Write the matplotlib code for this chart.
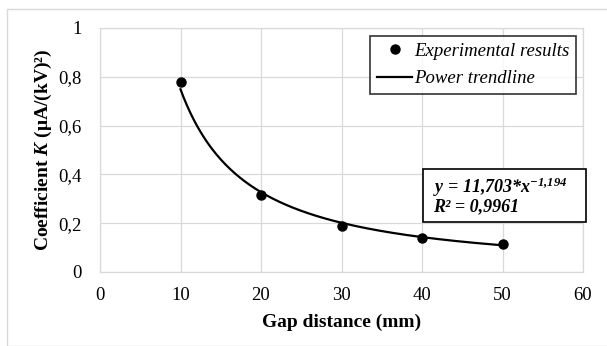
import numpy as np
import matplotlib
matplotlib.use("Agg")
import matplotlib.pyplot as plt
from matplotlib.lines import Line2D
from matplotlib.patches import Rectangle

# data
gap_mm = [10, 20, 30, 40, 50]
coef_k = [0.78, 0.315, 0.19, 0.14, 0.113]
fit_a = 11.703
fit_b = -1.194
r2 = 0.9961
xticks = [0, 10, 20, 30, 40, 50, 60]
yticks = [0, 0.2, 0.4, 0.6, 0.8, 1.0]
ytick_labels = ["0", "0,2", "0,4", "0,6", "0,8", "1"]

plt.rcParams['font.family'] = ['Liberation Serif', 'DejaVu Serif']
plt.rcParams['mathtext.fontset'] = 'custom'
plt.rcParams['mathtext.rm'] = 'Liberation Serif:bold:italic'
plt.rcParams['mathtext.it'] = 'Liberation Serif:bold:italic'
plt.rcParams['mathtext.bf'] = 'Liberation Serif:bold:italic'

W, H = 607, 346
fig = plt.figure(figsize=(W/100, H/100), dpi=100)
fig.patches.append(Rectangle((7/W, 0), 1, 1 - 9/H, transform=fig.transFigure,
                             fill=False, edgecolor='#d9d9d9', linewidth=1.0))

ax = fig.add_axes([100/W, 1 - 272/H, 483/W, 244/H])
grid_c = '#d9d9d9'
ax.set_xlim(0, 60)
ax.set_ylim(0, 1)
ax.set_xticks(xticks)
ax.set_yticks(yticks)
ax.set_yticklabels(ytick_labels)
ax.grid(True, color=grid_c, linewidth=0.9)
ax.set_axisbelow(True)
for s in ax.spines.values():
    s.set_color(grid_c)
    s.set_linewidth(0.9)
ax.tick_params(length=0, labelsize=13.5)
ax.tick_params(axis='y', pad=13)
ax.tick_params(axis='x', pad=11)

xs = np.linspace(min(gap_mm), max(gap_mm), 200)
ax.plot(xs, fit_a * xs ** fit_b, color='black', linewidth=1.6, zorder=3)
ax.plot(gap_mm, coef_k, 'o', color='black', markersize=6.5, zorder=4)

ax.set_xlabel("Gap distance (mm)", fontsize=14, fontweight='bold', labelpad=7)
ax.set_ylabel("Coefficient $K$ (μA/(kV)²)", fontsize=14, fontweight='bold', labelpad=3)

handles = [Line2D([], [], marker='o', color='black', linestyle='none', markersize=6.5),
           Line2D([], [], color='black', linewidth=1.6)]
leg = fig.legend(handles, ["Experimental results", "Power trendline"],
                 loc='upper right', bbox_to_anchor=(576/W, 1 - 36/H),
                 borderaxespad=0, frameon=True, fancybox=False,
                 prop={'family': 'Liberation Serif', 'style': 'italic', 'size': 13.5},
                 handlelength=1.9, handletextpad=0.1, borderpad=0.35, labelspacing=0.55)
leg.get_frame().set_edgecolor('black')
leg.get_frame().set_linewidth(1.2)

fig.patches.append(Rectangle((423/W, 1 - 222/H), 163/W, 53/H, transform=fig.transFigure,
                             facecolor='white', edgecolor='black', linewidth=1.2, zorder=5))
eq = "y = 11,703*x$^{-1{,}194}$\nR² = 0,9961"
fig.text(433/W, 1 - 195/H, eq, fontsize=13, fontweight='bold', fontstyle='italic',
         va='center', ha='left', linespacing=0.95, zorder=6)

fig.savefig("out.png", dpi=100)
